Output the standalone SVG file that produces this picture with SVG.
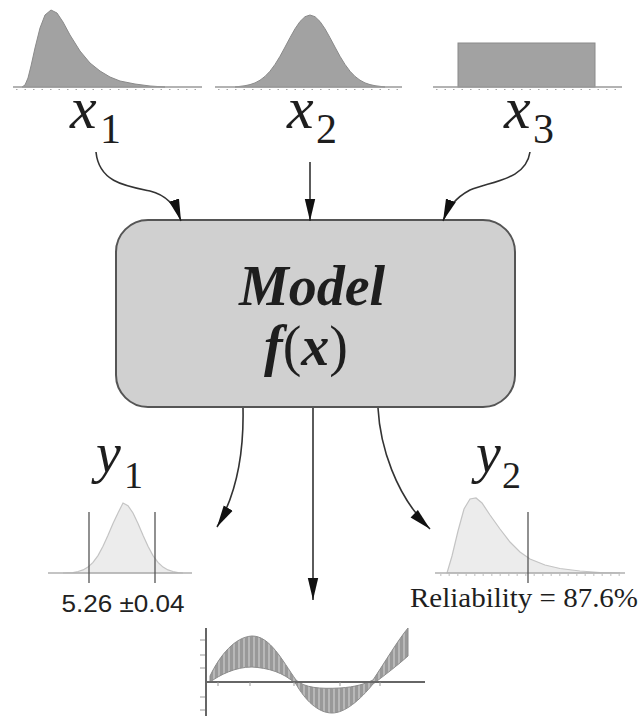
<svg xmlns="http://www.w3.org/2000/svg" width="639" height="722" viewBox="0 0 639 722">
<style>
.dist{fill:#a2a2a2;stroke:#8a8a8a;stroke-width:1}
.ldist{fill:#ececec;stroke:#c4c4c4;stroke-width:1.2}
.base{stroke:#9a9a9a;stroke-width:1.5;fill:none}
.ticks{stroke:#a8a8a8;stroke-width:1.2;stroke-dasharray:1.5 7;fill:none}
.conn{fill:none;stroke:#333;stroke-width:1.6}
.vline{stroke:#555;stroke-width:1.3}
</style>
<defs>
<marker id="ah" markerUnits="userSpaceOnUse" markerWidth="24" markerHeight="12" refX="22" refY="6" orient="auto">
<path d="M0,0.8 L22,6 L0,11.2 Z" fill="#111"/>
</marker>
<pattern id="hatch" patternUnits="userSpaceOnUse" width="5" height="10">
<rect width="5" height="10" fill="#999"/>
<line x1="4" y1="0" x2="4" y2="10" stroke="#d8d8d8" stroke-width="1"/>
</pattern>
</defs>
<rect width="639" height="722" fill="#fff"/>

<g id="x1">
<path class="dist" d="M22,87 L25,85 L28,78 L31,66 L35,48 L40,28 L45,15 L51,10 L57,13 L63,22 L70,35 L80,51 L90,63 L100,71 L110,77 L120,81 L135,84 L150,86 L165,87 Z"/>
<line class="base" x1="13" y1="87" x2="202" y2="87"/>
<line class="ticks" x1="16" y1="89.5" x2="202" y2="89.5"/>
<text font-family="Liberation Serif, serif" font-style="italic" font-size="60" fill="#1e1e1e" x="70" y="128">x</text>
<text font-family="Liberation Serif, serif" font-size="42" fill="#1e1e1e" x="100" y="143">1</text>
</g>

<g id="x2">
<path class="dist" d="M235,87 L245,85.7 L250,84.6 L255,82.9 L260,80.2 L265,76.4 L270,71.2 L275,64.4 L280,56.3 L285,47.1 L290,37.7 L295,28.8 L300,21.5 L305,16.7 L310,15 L315,16.7 L320,21.5 L325,28.8 L330,37.7 L335,47.1 L340,56.3 L345,64.4 L350,71.2 L355,76.4 L360,80.2 L365,82.9 L370,84.6 L375,85.7 L385,87 Z"/>
<line class="base" x1="215" y1="87" x2="402" y2="87"/>
<line class="ticks" x1="218" y1="89.5" x2="402" y2="89.5"/>
<text font-family="Liberation Serif, serif" font-style="italic" font-size="60" fill="#1e1e1e" x="287" y="128">x</text>
<text font-family="Liberation Serif, serif" font-size="42" fill="#1e1e1e" x="316" y="143">2</text>
</g>

<g id="x3">
<rect x="458" y="43" width="137" height="44" fill="#a2a2a2" stroke="#8a8a8a" stroke-width="1"/>
<line class="base" x1="433" y1="87" x2="622" y2="87"/>
<line class="ticks" x1="436" y1="89.5" x2="622" y2="89.5"/>
<text font-family="Liberation Serif, serif" font-style="italic" font-size="60" fill="#1e1e1e" x="504" y="128">x</text>
<text font-family="Liberation Serif, serif" font-size="42" fill="#1e1e1e" x="533" y="143">3</text>
</g>

<g id="model">
<rect x="116" y="220" width="399" height="187" rx="32" ry="32" fill="#d0d0d0" stroke="#555" stroke-width="2"/>
<text font-family="Liberation Serif, serif" font-style="italic" font-weight="bold" font-size="56" fill="#1e1e1e" x="312" y="305" text-anchor="middle">Model</text>
<text font-family="Liberation Serif, serif" font-size="56" fill="#1e1e1e" x="306" y="365" text-anchor="middle"><tspan font-weight="bold" font-style="italic">f</tspan>(<tspan font-weight="bold" font-style="italic">x</tspan>)</text>
</g>

<g id="y1">
<path class="ldist" d="M63,573 L73,572.7 L78,571.5 L83,569.9 L88,567.1 L93,562.4 L98,555.6 L103,546.3 L108,535.3 L113,523.5 L118,513 L123,503 L128,505.7 L133,513 L138,523.5 L143,535.3 L148,546.3 L153,555.6 L158,562.4 L163,567.1 L168,569.9 L173,571.5 L178,572.7 L183,573 Z"/>
<line x1="48" y1="573" x2="192" y2="573" stroke="#b0b0b0" stroke-width="1.3"/>
<line class="vline" x1="89" y1="512" x2="89" y2="583"/>
<line class="vline" x1="155" y1="512" x2="155" y2="583"/>
<text font-family="Liberation Serif, serif" font-style="italic" font-size="56" fill="#1e1e1e" x="96" y="472">y</text>
<text font-family="Liberation Serif, serif" font-size="38" fill="#1e1e1e" x="124" y="488">1</text>
<text font-family="Liberation Sans, sans-serif" font-size="24" fill="#222" x="123" y="612" text-anchor="middle" textLength="123" lengthAdjust="spacingAndGlyphs">5.26 ±0.04</text>
</g>

<g id="y2">
<path class="ldist" d="M447,573 L452,556 L458,531 L464,509 L470,499 L476,498 L482,503 L490,515 L500,529 L510,542 L520,552 L530,559 L545,565 L560,568.5 L580,571 L600,572.5 L620,573 Z"/>
<line x1="435" y1="573" x2="625" y2="573" stroke="#b0b0b0" stroke-width="1.3"/>
<line class="ticks" x1="440" y1="575" x2="625" y2="575"/>
<line class="vline" x1="528" y1="512" x2="528" y2="583"/>
<text font-family="Liberation Serif, serif" font-style="italic" font-size="56" fill="#1e1e1e" x="476" y="472">y</text>
<text font-family="Liberation Serif, serif" font-size="38" fill="#1e1e1e" x="502" y="488">2</text>
<text font-family="Liberation Serif, serif" font-size="28" fill="#1e1e1e" x="410" y="607" textLength="228" lengthAdjust="spacingAndGlyphs">Reliability = 87.6%</text>
</g>

<g id="plot">
<path d="M210,676 C220,655 235,637 252,636 C270,636 282,660 296,680 C305,688 320,689 340,688 C355,687 365,684 373,680 C385,662 398,640 408,628 L408,656 C398,665 385,675 373,684 C360,700 345,713 332,713 C318,713 305,700 296,684 C283,672 268,668 252,667 C235,667 220,675 210,682 Z" fill="url(#hatch)" stroke="#8c8c8c" stroke-width="1"/>
<line x1="206" y1="628" x2="206" y2="716" stroke="#666" stroke-width="2"/>
<line x1="206" y1="682" x2="425" y2="682" stroke="#666" stroke-width="2"/>
<g stroke="#999" stroke-width="1">
<line x1="200" y1="640" x2="205" y2="640"/><line x1="200" y1="655" x2="205" y2="655"/><line x1="200" y1="668" x2="205" y2="668"/><line x1="200" y1="697" x2="205" y2="697"/><line x1="200" y1="710" x2="205" y2="710"/>
<line x1="218" y1="682" x2="218" y2="686"/><line x1="250" y1="682" x2="250" y2="686"/><line x1="294" y1="682" x2="294" y2="686"/><line x1="340" y1="682" x2="340" y2="686"/><line x1="380" y1="682" x2="380" y2="686"/>
</g>
</g>

<g id="connectors">
<path class="conn" d="M96,152 C99,182 125,186 150,191 C166,195 176,206 181,221" marker-end="url(#ah)"/>
<path class="conn" d="M310,162 L310,221" marker-end="url(#ah)"/>
<path class="conn" d="M530,152 C526,180 492,181 470,190 C455,198 448,208 443,221" marker-end="url(#ah)"/>
<path class="conn" d="M243,408 C244,455 236,495 217,527" marker-end="url(#ah)"/>
<path class="conn" d="M313,408 L313,600" marker-end="url(#ah)"/>
<path class="conn" d="M378,408 C380,445 395,495 430,529" marker-end="url(#ah)"/>
</g>
</svg>
